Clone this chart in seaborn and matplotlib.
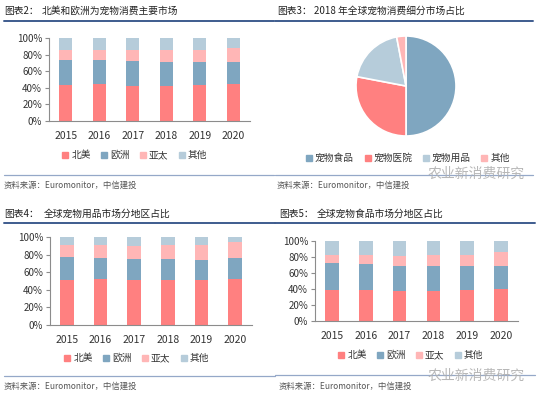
import numpy as np
import pandas as pd
import matplotlib
matplotlib.use("Agg")
import matplotlib.pyplot as plt
import seaborn as sns
from matplotlib.lines import Line2D

sns.set_theme(style="white")
plt.rcParams['font.family'] = ['Noto Sans CJK SC', 'DejaVu Sans']

# === data ===
years = ['2015', '2016', '2017', '2018', '2019', '2020']
regions = ['北美', '欧洲', '亚太', '其他']

# chart 2: pet consumption by region (%)
c2_na = [43, 44, 42, 42, 43, 44]
c2_eu = [31, 29, 30, 29, 28, 27]
c2_ap = [11, 13, 13, 15, 15, 17]
c2_ot = [15, 14, 15, 14, 14, 12]

# chart 3: 2018 segment split (%)
pie_labels = ['宠物食品', '宠物医院', '宠物用品', '其他']
pie_values = [50, 28, 19, 3]

# chart 4: pet supplies by region (%)
c4_na = [51, 52, 51, 51, 51, 52]
c4_eu = [26, 24, 24, 24, 23, 24]
c4_ap = [14, 15, 15, 16, 17, 18]
c4_ot = [9, 9, 10, 9, 9, 6]

# chart 5: pet food by region (%)
c5_na = [39, 39, 38, 38, 39, 40]
c5_eu = [33, 32, 31, 31, 30, 29]
c5_ap = [11, 12, 12, 14, 14, 17]
c5_ot = [17, 17, 19, 17, 17, 14]

reg_colors = ['#FF8080', '#7FA6C0', '#FFB6B6', '#B6CCDA']
pie_colors = ['#7FA6C0', '#FF8080', '#B6CCDA', '#FFB6B6']

W, H = 550, 399
fig = plt.figure(figsize=(W / 100, H / 100), dpi=100)


def fx(x):
    return x / W


def fy(y):
    return 1 - y / H


def rect(l, t, r, b):
    return [fx(l), fy(b), (r - l) / W, (b - t) / H]


def stacked(ax, na, eu, ap, ot):
    df = pd.DataFrame({'year': years, 'na': na, 'eu': eu, 'ap': ap, 'ot': ot})
    parts = [df['na'], df['eu'], df['ap'], df['ot']]
    cum = np.cumsum(np.array(parts, dtype=float), axis=0) / 100
    # draw tallest first so lower segments sit on top
    for i in range(3, -1, -1):
        sns.barplot(x=df['year'], y=cum[i], color=reg_colors[i], width=0.4,
                    saturation=1, linewidth=0, ax=ax)
    ax.set_ylim(0, 1)
    ax.set_xlim(-0.5, 5.5)
    ax.set_yticks([0, 0.2, 0.4, 0.6, 0.8, 1.0])
    ax.set_yticklabels(['0%', '20%', '40%', '60%', '80%', '100%'])
    ax.set_xlabel('')
    ax.set_ylabel('')
    for s in ['top', 'right']:
        ax.spines[s].set_visible(False)
    for s in ['left', 'bottom']:
        ax.spines[s].set_color('#8c8c8c')
        ax.spines[s].set_linewidth(0.8)
    ax.tick_params(axis='y', left=True, length=3, width=0.8, color='#8c8c8c',
                   labelsize=7, labelcolor='#333333', pad=2)
    ax.tick_params(axis='x', bottom=False, labelsize=7.5, labelcolor='#333333', pad=1)
    ax.set_facecolor('none')


def legend_at(labels, colors, cx, cy):
    handles = [Line2D([], [], marker='s', linestyle='', markersize=4,
                      markerfacecolor=c, markeredgecolor=c) for c in colors]
    fig.legend(handles, labels, loc='center', bbox_to_anchor=(fx(cx), fy(cy)),
               ncol=len(labels), frameon=False, fontsize=7, handletextpad=0.1,
               columnspacing=0.9, handlelength=1.0, labelcolor='#333333')


def header(num_x, title_x, y, num, title, line_l, line_r, line_y):
    fig.text(fx(num_x), fy(y), num, fontsize=7, color='#222222', va='center')
    fig.text(fx(title_x), fy(y), title, fontsize=7, color='#222222', va='center')
    fig.add_artist(Line2D([fx(line_l), fx(line_r)], [fy(line_y)] * 2,
                          color='#3E5C8E', linewidth=1.4))


def source(x, y, line_l, line_r, line_y):
    fig.add_artist(Line2D([fx(line_l), fx(line_r)], [fy(line_y)] * 2,
                          color='#95A8C8', linewidth=0.9))
    fig.text(fx(x), fy(y), '资料来源：Euromonitor，中信建投', fontsize=6,
             color='#555555', va='center')


def watermark(x, y):
    fig.text(fx(x), fy(y), '农业新消费研究', fontsize=10, color='#B0B0B0',
             va='center', alpha=0.9)


# === top-left: chart 2 ===
header(4, 42, 11, '图表2：', '北美和欧洲为宠物消费主要市场', 4, 274, 21)
ax1 = fig.add_axes(rect(49, 38, 250, 121))
stacked(ax1, c2_na, c2_eu, c2_ap, c2_ot)
legend_at(regions, reg_colors, 134, 155)
source(4, 185, 4, 274, 175)

# === top-right: chart 3 ===
header(277, 314, 11, '图表3：', '2018 年全球宠物消费细分市场占比', 275, 533, 21)
ax2 = fig.add_axes(rect(355, 35, 457, 137))
ax2.pie(pie_values, colors=pie_colors, startangle=90, counterclock=False,
        wedgeprops={'edgecolor': 'white', 'linewidth': 1.2})
ax2.set_xlim(-1.02, 1.02)
ax2.set_ylim(-1.02, 1.02)
ax2.set_aspect('equal')
legend_at(pie_labels, pie_colors, 407, 158)
source(277, 185, 275, 533, 175)
watermark(428, 174)

# === bottom-left: chart 4 ===
header(4, 44, 214, '图表4：', '全球宠物用品市场分地区占比', 4, 275, 223)
ax3 = fig.add_axes(rect(50, 237, 252, 325))
stacked(ax3, c4_na, c4_eu, c4_ap, c4_ot)
legend_at(regions, reg_colors, 136, 358)
source(4, 386, 4, 275, 376)

# === bottom-right: chart 5 ===
header(279, 317, 214, '图表5：', '全球宠物食品市场分地区占比', 275, 535, 223)
ax4 = fig.add_axes(rect(315, 241, 518, 321))
stacked(ax4, c5_na, c5_eu, c5_ap, c5_ot)
legend_at(regions, reg_colors, 410, 355)
source(279, 386, 275, 535, 375)
watermark(428, 376)

fig.savefig('out.png', dpi=100)
